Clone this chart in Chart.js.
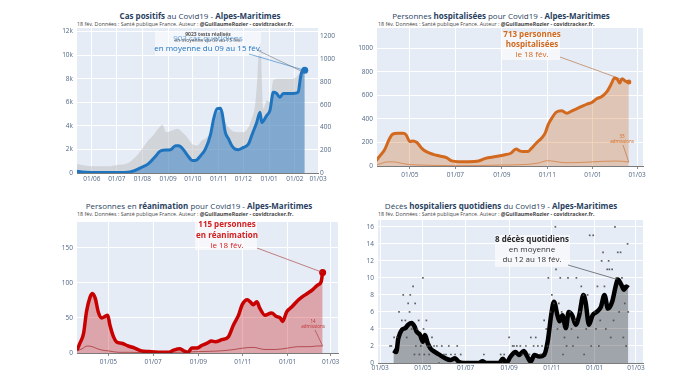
<!DOCTYPE html>
<html>
<head>
<meta charset="utf-8">
<script src="https://cdn.jsdelivr.net/npm/chart.js@4.4.1/dist/chart.umd.min.js"></script>
<style>
    body { margin: 0; width: 680px; height: 387px; position: relative; overflow: hidden; background: #fff; font-family: "Open Sans", sans-serif; }
    canvas { position: absolute; }
    .title { position: absolute; transform: translate(-50%, -50%); white-space: nowrap; font-size: 8px; color: #2a3f5f; }
    .sub { position: absolute; transform: translateY(-50%); white-space: nowrap; font-size: 5.3px; color: #444; }
</style>
</head>
<body>
<div class="title" style="left:200px;top:15px"><b>Cas positifs</b> au Covid19 - <b>Alpes-Maritimes</b></div>
<div class="sub" style="left:77px;top:23.5px">18 fév. Données : Santé publique France. Auteur : <b>@GuillaumeRozier - covidtracker.fr.</b></div>
<div class="title" style="left:501px;top:15px">Personnes <b>hospitalisées</b> pour Covid19 - <b>Alpes-Maritimes</b></div>
<div class="sub" style="left:378px;top:24px">18 fév. Données : Santé publique France. Auteur : <b>@GuillaumeRozier - covidtracker.fr.</b></div>
<div class="title" style="left:199px;top:205px">Personnes en <b>réanimation</b> pour Covid19 - <b>Alpes-Maritimes</b></div>
<div class="sub" style="left:77px;top:214px">18 fév. Données : Santé publique France. Auteur : <b>@GuillaumeRozier - covidtracker.fr.</b></div>
<div class="title" style="left:501px;top:204.5px">Décès <b>hospitaliers quotidiens</b> du Covid19 - <b>Alpes-Maritimes</b></div>
<div class="sub" style="left:378px;top:214px">18 fév. Données : Santé publique France. Auteur : <b>@GuillaumeRozier - covidtracker.fr.</b></div>

<canvas id="c1" width="345" height="190" style="left:0;top:0"></canvas>
<canvas id="c2" width="340" height="190" style="left:340px;top:0"></canvas>
<canvas id="c3" width="345" height="192" style="left:0;top:195px"></canvas>
<canvas id="c4" width="340" height="192" style="left:340px;top:195px"></canvas>

<script>
// ---- cas positifs (moyenne 7 jours) et tests ----
const casesDates = ['2020-05-14','2020-05-20','2020-06-01','2020-06-15','2020-07-01','2020-07-17','2020-07-31','2020-08-08','2020-08-16','2020-08-22',
    '2020-08-26','2020-09-04','2020-09-10','2020-09-14','2020-09-20','2020-09-26','2020-09-30','2020-10-04','2020-10-10','2020-10-16',
    '2020-10-22','2020-10-26','2020-10-30','2020-11-03','2020-11-05','2020-11-09','2020-11-13','2020-11-17','2020-11-21','2020-11-25',
    '2020-12-01','2020-12-07','2020-12-11','2020-12-17','2020-12-21','2020-12-23','2020-12-29','2021-01-02','2021-01-06','2021-01-10',
    '2021-01-14','2021-01-18','2021-01-24','2021-01-30','2021-02-05','2021-02-08','2021-02-10','2021-02-13'];
const casesValues = [15, 8, 5, 5, 5, 10, 50, 80, 140, 190,
    200, 205, 240, 240, 200, 140, 110, 110, 150, 210,
    330, 475, 565, 570, 535, 360, 300, 240, 210, 205,
    225, 255, 330, 445, 535, 445, 505, 550, 710, 700,
    665, 700, 700, 700, 710, 845, 900, 903];

const testsDates = ['2020-05-14','2020-06-01','2020-06-21','2020-07-01','2020-07-15','2020-07-21','2020-07-27','2020-08-02','2020-08-08','2020-08-14',
    '2020-08-20','2020-08-25','2020-08-30','2020-09-06','2020-09-12','2020-09-18','2020-09-24','2020-09-30','2020-10-06','2020-10-12',
    '2020-10-18','2020-10-24','2020-10-28','2020-11-01','2020-11-05','2020-11-09','2020-11-13','2020-11-19','2020-11-25','2020-12-01',
    '2020-12-07','2020-12-11','2020-12-15','2020-12-18','2020-12-20','2020-12-22','2020-12-23','2020-12-25','2020-12-29','2021-01-02',
    '2021-01-06','2021-01-12','2021-01-20','2021-01-28','2021-02-03','2021-02-08','2021-02-13'];
const testsValues = [770, 570, 570, 680, 850, 1190, 1620, 2190, 2750, 3180,
    3750, 4100, 3460, 3600, 3750, 3460, 3040, 2470, 2330, 2750,
    3040, 3750, 4460, 5170, 5110, 4320, 3890, 3520, 3460, 3460,
    3890, 4600, 5740, 8290, 10850, 11000, 8290, 5450, 6160, 6020,
    7870, 8000, 8000, 8000, 8150, 8500, 8500];

// ---- hospitalisations ----
const hospDates = ['2020-03-17','2020-03-21','2020-03-28','2020-04-04','2020-04-08','2020-04-15','2020-04-22','2020-04-26','2020-05-01','2020-05-05',
    '2020-05-10','2020-05-17','2020-05-23','2020-06-01','2020-06-10','2020-06-19','2020-06-26','2020-07-05','2020-07-19','2020-08-01',
    '2020-08-10','2020-08-24','2020-09-04','2020-09-13','2020-09-20','2020-09-25','2020-09-29','2020-10-06','2020-10-10','2020-10-17',
    '2020-10-24','2020-10-29','2020-11-02','2020-11-07','2020-11-13','2020-11-20','2020-11-27','2020-12-04','2020-12-10','2020-12-17',
    '2020-12-24','2020-12-31','2021-01-06','2021-01-13','2021-01-20','2021-01-25','2021-01-30','2021-02-03','2021-02-06','2021-02-09',
    '2021-02-14','2021-02-18'];
const hospValues = [43, 80, 136, 235, 270, 278, 278, 264, 207, 213,
    201, 150, 122, 99, 85, 71, 43, 37, 37, 43,
    65, 80, 94, 108, 145, 128, 122, 122, 145, 193,
    235, 278, 349, 406, 457, 468, 448, 468, 485, 505,
    525, 540, 570, 590, 633, 689, 746, 732, 704, 740,
    718, 713];
const hospAdmDates = ['2020-03-18','2020-03-25','2020-04-01','2020-04-08','2020-04-15','2020-04-22','2020-05-01','2020-05-15','2020-06-01','2020-07-01',
    '2020-08-01','2020-09-01','2020-10-01','2020-10-20','2020-11-01','2020-11-10','2020-11-20','2020-12-01','2020-12-15','2021-01-01',
    '2021-01-15','2021-02-01','2021-02-10','2021-02-18'];
const hospAdmValues = [10, 25, 35, 35, 30, 20, 12, 8, 5, 3,
    4, 8, 12, 25, 45, 40, 30, 28, 30, 35,
    40, 42, 40, 33];

// ---- réanimation ----
const reaDates = ['2020-03-19','2020-03-23','2020-03-28','2020-04-01','2020-04-06','2020-04-09','2020-04-13','2020-04-17','2020-04-22','2020-04-26',
    '2020-04-30','2020-05-03','2020-05-08','2020-05-12','2020-05-19','2020-05-28','2020-06-06','2020-06-15','2020-06-25','2020-07-08',
    '2020-07-22','2020-07-29','2020-08-07','2020-08-12','2020-08-18','2020-08-23','2020-08-30','2020-09-06','2020-09-13','2020-09-19',
    '2020-09-24','2020-10-03','2020-10-12','2020-10-19','2020-10-26','2020-10-31','2020-11-07','2020-11-11','2020-11-15','2020-11-20',
    '2020-11-24','2020-12-01','2020-12-10','2020-12-17','2020-12-22','2020-12-25','2020-12-31','2021-01-07','2021-01-14','2021-01-21',
    '2021-01-28','2021-02-04','2021-02-11','2021-02-16','2021-02-18'];
const reaValues = [4, 14, 28, 59, 80, 85, 78, 59, 50, 52,
    54, 40, 23, 16, 14, 10, 7, 3, 2, 1,
    1, 4, 6, 3, 1, 7, 7, 11, 14, 17,
    16, 19, 23, 40, 54, 69, 76, 73, 69, 73,
    64, 54, 57, 52, 50, 45, 59, 66, 74, 80,
    85, 90, 97, 102, 115];
const reaAdmDates = ['2020-03-19','2020-03-26','2020-04-02','2020-04-09','2020-04-16','2020-04-23','2020-05-01','2020-05-15','2020-06-01','2020-07-01',
    '2020-08-01','2020-09-01','2020-10-01','2020-10-20','2020-11-01','2020-11-15','2020-12-01','2020-12-15','2021-01-01','2021-01-15',
    '2021-02-01','2021-02-10','2021-02-18'];
const reaAdmValues = [3, 6, 10, 9, 6, 4, 3, 1, 1, 0,
    1, 2, 3, 5, 7, 8, 5, 5, 7, 9,
    9, 10, 10];

// ---- décès hospitaliers : moyenne 7 jours et valeurs quotidiennes ----
const deathDates = ['2020-03-20','2020-03-24','2020-03-27','2020-04-01','2020-04-06','2020-04-10','2020-04-15','2020-04-19','2020-04-22','2020-04-27',
    '2020-05-01','2020-05-04','2020-05-08','2020-05-12','2020-05-19','2020-05-26','2020-06-02','2020-06-09','2020-06-16','2020-06-21',
    '2020-06-28','2020-07-20','2020-07-25','2020-07-30','2020-08-18','2020-08-23','2020-08-28','2020-09-03','2020-09-10','2020-09-15',
    '2020-09-22','2020-09-27','2020-10-02','2020-10-07','2020-10-14','2020-10-21','2020-10-26','2020-10-31','2020-11-04','2020-11-09',
    '2020-11-12','2020-11-16','2020-11-21','2020-11-25','2020-11-30','2020-12-05','2020-12-10','2020-12-16','2020-12-19','2020-12-24',
    '2020-12-29','2021-01-04','2021-01-10','2021-01-15','2021-01-20','2021-01-26','2021-01-31','2021-02-03','2021-02-08','2021-02-12',
    '2021-02-15','2021-02-18'];
const deathAvg = [1.5, 1.3, 2.9, 3.9, 4.1, 4.5, 4.7, 4.3, 3.7, 3.3,
    2.5, 3.3, 2.3, 1.7, 1.25, 0.9, 0.55, 0.35, 0.55, 0.15,
    0, 0, 0.2, 0, 0, 0.5, 0, 0.75, 1.3, 0.95,
    1.4, 0.75, 0.15, 0.95, 0.75, 0.95, 2.5, 5.6, 7.2, 5.6,
    4.9, 5.6, 4.1, 6.0, 5.6, 4.5, 5.6, 8.0, 7.2, 4.5,
    5.6, 6.0, 6.6, 8.0, 6.4, 7.2, 9.0, 9.8, 9.2, 8.6,
    9.0, 8.8];
const dailyDates = ['2020-03-15','2020-03-17','2020-03-21','2020-03-25','2020-03-28','2020-04-01','2020-04-03','2020-04-06','2020-04-08','2020-04-10',
    '2020-04-12','2020-04-13','2020-04-15','2020-04-17','2020-04-19','2020-04-20','2020-04-21','2020-04-23','2020-04-25','2020-04-26',
    '2020-04-28','2020-05-01','2020-05-02','2020-05-03','2020-05-06','2020-05-08','2020-05-10','2020-05-11','2020-05-14','2020-05-17',
    '2020-05-21','2020-05-24','2020-05-28','2020-05-31','2020-06-03','2020-06-07','2020-06-10','2020-06-16','2020-06-19','2020-06-24',
    '2020-07-27','2020-08-20','2020-08-25','2020-09-01','2020-09-06','2020-09-08','2020-09-12','2020-09-17','2020-09-20','2020-09-25',
    '2020-09-30','2020-10-02','2020-10-06','2020-10-09','2020-10-12','2020-10-16','2020-10-18','2020-10-21','2020-10-24','2020-10-26',
    '2020-10-27','2020-10-30','2020-11-01','2020-11-04','2020-11-06','2020-11-07','2020-11-09','2020-11-11','2020-11-13','2020-11-15',
    '2020-11-17','2020-11-19','2020-11-22','2020-11-24','2020-11-27','2020-11-29','2020-12-01','2020-12-04','2020-12-06','2020-12-08',
    '2020-12-11','2020-12-13','2020-12-16','2020-12-17','2020-12-20','2020-12-22','2020-12-25','2020-12-27','2020-12-30','2021-01-01',
    '2021-01-03','2021-01-05','2021-01-07','2021-01-09','2021-01-11','2021-01-13','2021-01-15','2021-01-17','2021-01-19','2021-01-21',
    '2021-01-22','2021-01-24','2021-01-26','2021-01-28','2021-01-30','2021-02-01','2021-02-03','2021-02-05','2021-02-07','2021-02-09',
    '2021-02-11','2021-02-13','2021-02-15','2021-02-17','2021-02-18'];
const dailyValues = [2, 2, 3, 3, 6, 5, 8, 5, 3, 7,
    6, 8, 4, 9, 1, 7, 2, 4, 5, 1,
    2, 10, 4, 1, 5, 2, 1, 2, 3, 2,
    2, 0, 2, 1, 1, 2, 1, 1, 2, 1,
    1, 1, 1, 3, 2, 2, 2, 2, 1, 2,
    1, 3, 2, 3, 2, 1, 2, 5, 4, 2,
    10, 6, 8, 7, 16, 11, 4, 7, 10, 6,
    1, 3, 2, 10, 6, 4, 2, 5, 10, 3,
    6, 9, 8, 1, 4, 8, 15, 2, 15, 6,
    4, 9, 2, 5, 12, 13, 9, 4, 11, 12,
    11, 3, 11, 5, 16, 10, 13, 6, 13, 10,
    3, 7, 2, 14, 6];

// ---- axes ----
const monthTicks1 = ['2020-06-01','2020-07-01','2020-08-01','2020-09-01','2020-10-01','2020-11-01','2020-12-01','2021-01-01','2021-02-01','2021-03-01'];
const monthTicks2 = ['2020-05-01','2020-07-01','2020-09-01','2020-11-01','2021-01-01','2021-03-01'];
const monthTicks4 = ['2020-03-01','2020-05-01','2020-07-01','2020-09-01','2020-11-01','2021-01-01','2021-03-01'];
const casesLeftTicks = [0, 2000, 4000, 6000, 8000, 10000, 12000];
const casesLeftLabels = ['0', '2k', '4k', '6k', '8k', '10k', '12k'];
const casesRightTicks = [0, 200, 400, 600, 800, 1000, 1200];
const hospTicks = [0, 200, 400, 600, 800, 1000];
const reaTicks = [0, 50, 100, 150];
const deathTicks = [0, 2, 4, 6, 8, 10, 12, 14, 16];

Chart.defaults.font.family = '"Open Sans", sans-serif';

const dayNum = s => Date.UTC(+s.slice(0, 4), +s.slice(5, 7) - 1, +s.slice(8, 10)) / 864e5;
const pts = (dates, vals) => dates.map((d, i) => ({ x: dayNum(d), y: vals[i] }));
const tickFont = { size: 6.5 };
const tickColor = '#506784';

function xAxis(minD, maxD, tickDates, height, pad, drawTicks) {
    return {
        type: 'linear', min: dayNum(minD), max: dayNum(maxD),
        afterBuildTicks: s => { s.ticks = tickDates.map(d => ({ value: dayNum(d) })); },
        afterFit: s => { s.height = height; },
        ticks: {
            autoSkip: false, maxRotation: 0, font: tickFont, color: tickColor, padding: pad,
            callback: (v, i) => tickDates[i].slice(8, 10) + '/' + tickDates[i].slice(5, 7)
        },
        grid: { color: '#fff', lineWidth: 1, drawTicks: drawTicks, tickLength: 3, tickColor: '#8a8a8a' },
        border: { display: true, color: 'rgba(90,90,90,0.8)', width: 1 }
    };
}

function yAxis(position, max, tickVals, labels, width, pad, grid) {
    return {
        position, min: 0, max,
        afterBuildTicks: s => { s.ticks = tickVals.map(v => ({ value: v })); },
        afterFit: s => { s.width = width; },
        ticks: { font: tickFont, color: tickColor, padding: pad, callback: (v, i) => labels[i] },
        grid: { color: '#fff', lineWidth: 1, drawTicks: false, drawOnChartArea: grid },
        border: { display: false }
    };
}

// fond du graphique
const plotBg = {
    id: 'plotBg',
    beforeDraw(chart) {
        const { ctx, chartArea: a } = chart;
        ctx.save();
        ctx.fillStyle = '#e5ecf6';
        ctx.fillRect(a.left, a.top, a.width, a.height);
        ctx.restore();
    }
};

// annotations : boîtes, textes et traits vers un point
function notes(items) {
    return {
        id: 'notes',
        afterDatasetsDraw(chart) {
            const ctx = chart.ctx;
            ctx.save();
            ctx.textAlign = 'center';
            ctx.textBaseline = 'middle';
            for (const it of items) {
                if (it.box) {
                    ctx.fillStyle = it.fill;
                    ctx.fillRect(...it.box);
                } else if (it.text) {
                    ctx.font = it.font;
                    ctx.fillStyle = it.color;
                    ctx.fillText(it.text, it.x, it.y);
                } else if (it.from) {
                    const meta = chart.getDatasetMeta(it.ds);
                    const data = chart.data.datasets[it.ds].data;
                    let idx = data.length - 1;
                    if (it.date) idx = data.findIndex(p => p.x === dayNum(it.date));
                    const el = meta.data[idx];
                    ctx.strokeStyle = it.color;
                    ctx.lineWidth = it.width || 0.8;
                    ctx.beginPath();
                    ctx.moveTo(it.from[0], it.from[1]);
                    ctx.lineTo(el.x, el.y);
                    ctx.stroke();
                }
            }
            ctx.restore();
        }
    };
}

const lastDot = r => c => c.dataIndex === c.dataset.data.length - 1 ? r : 0;
const base = {
    responsive: false, animation: false, devicePixelRatio: 1,
    plugins: { legend: { display: false }, tooltip: { enabled: false } },
    elements: { point: { radius: 0 }, line: { cubicInterpolationMode: 'monotone', borderJoinStyle: 'round' } }
};

const blue = '#1f74c0', orange = '#d2691e', red = '#c80000';
const f = (w, s) => `${w} ${s}px "Open Sans"`;

// 1. cas positifs
new Chart(document.getElementById('c1'), {
    type: 'line',
    data: {
        datasets: [
            { data: pts(testsDates, testsValues), yAxisID: 'y', borderWidth: 0, fill: 'origin', backgroundColor: 'rgba(190,190,190,0.5)', order: 3 },
            { data: pts(casesDates, casesValues), yAxisID: 'y2', borderColor: blue, borderWidth: 3, fill: 'origin',
              backgroundColor: 'rgba(31,116,192,0.45)', pointRadius: lastDot(3.5), pointBackgroundColor: blue, pointBorderWidth: 0, order: 1 }
        ]
    },
    options: {
        ...base,
        layout: { padding: { top: 28 } },
        scales: {
            x: xAxis('2020-05-14', '2021-03-01', monthTicks1, 17, 2, false),
            y: yAxis('left', 12300, casesLeftTicks, casesLeftLabels, 77, 4, true),
            y2: yAxis('right', 1275, casesRightTicks, casesRightTicks.map(String), 27, 2, false)
        }
    },
    plugins: [plotBg, notes([
        { box: [155, 31, 106, 25], fill: 'rgba(255,255,255,0.55)' },
        { text: '903 cas quotidiens', x: 208, y: 38.5, font: f('normal', 8), color: 'rgba(70,145,215,0.8)' },
        { text: '9023 tests réalisés', x: 208, y: 34.3, font: f('bold', 5), color: '#555' },
        { text: 'en moyenne du 09 au 15 fév.', x: 208, y: 40.3, font: f('normal', 5), color: '#555' },
        { text: 'en moyenne du 09 au 15 fév.', x: 208, y: 48.3, font: f('normal', 8), color: blue },
        { from: [249, 54], ds: 1, color: 'rgba(31,116,192,0.7)' },
        { from: [257, 50], ds: 0, color: 'rgba(110,110,110,0.7)' }
    ])]
});

// 2. hospitalisations
new Chart(document.getElementById('c2'), {
    type: 'line',
    data: {
        datasets: [
            { data: pts(hospDates, hospValues), borderColor: orange, borderWidth: 3, fill: 'origin', backgroundColor: 'rgba(210,105,30,0.3)',
              pointRadius: lastDot(2.5), pointBackgroundColor: orange, pointBorderWidth: 0, order: 1 },
            { data: pts(hospAdmDates, hospAdmValues), borderColor: 'rgba(210,105,30,0.6)', borderWidth: 1, fill: false, order: 0 }
        ]
    },
    options: {
        ...base,
        layout: { padding: { top: 28, right: 37 } },
        scales: {
            x: xAxis('2020-03-18', '2021-03-09', monthTicks2, 24, 2, true),
            y: yAxis('left', 1170, hospTicks, hospTicks.map(String), 37, 4, true)
        }
    },
    plugins: [plotBg, notes([
        { box: [162, 32, 58, 28], fill: 'rgba(255,255,255,0.6)' },
        { text: '713 personnes', x: 192, y: 35, font: f('bold', 8), color: orange },
        { text: 'hospitalisées', x: 192, y: 45, font: f('bold', 8), color: orange },
        { text: 'le 18 fév.', x: 192, y: 54.5, font: f('normal', 8), color: orange },
        { from: [220, 57], ds: 0, color: 'rgba(180,110,60,0.8)' },
        { text: '33', x: 282, y: 137, font: f('normal', 4.5), color: orange },
        { text: 'admissions', x: 282, y: 142, font: f('normal', 4.5), color: orange },
        { from: [283, 145], ds: 1, color: 'rgba(180,110,60,0.8)' }
    ])]
});

// 3. réanimation
new Chart(document.getElementById('c3'), {
    type: 'line',
    data: {
        datasets: [
            { data: pts(reaDates, reaValues), borderColor: red, borderWidth: 3.5, fill: 'origin', backgroundColor: 'rgba(200,0,0,0.3)',
              pointRadius: lastDot(3.5), pointBackgroundColor: red, pointBorderWidth: 0, order: 1 },
            { data: pts(reaAdmDates, reaAdmValues), borderColor: 'rgba(150,20,20,0.6)', borderWidth: 1, fill: false, order: 0 }
        ]
    },
    options: {
        ...base,
        layout: { padding: { top: 27, right: 7 } },
        scales: {
            x: xAxis('2020-03-19', '2021-03-11', monthTicks2, 34, 2, true),
            y: yAxis('left', 187, reaTicks, reaTicks.map(String), 77, 4, true)
        }
    },
    plugins: [plotBg, notes([
        { box: [195, 25, 62, 30], fill: 'rgba(255,255,255,0.6)' },
        { text: '115 personnes', x: 227, y: 30, font: f('bold', 8), color: '#d42020' },
        { text: 'en réanimation', x: 227, y: 40.7, font: f('bold', 8), color: '#d42020' },
        { text: 'le 18 fév.', x: 227, y: 50.7, font: f('normal', 8), color: '#d42020' },
        { from: [257, 53], ds: 0, color: 'rgba(170,60,60,0.8)' },
        { text: '14', x: 313, y: 127, font: f('normal', 4.5), color: '#c03030' },
        { text: 'admissions', x: 313, y: 132, font: f('normal', 4.5), color: '#c03030' },
        { from: [315, 135], ds: 1, color: 'rgba(170,60,60,0.8)' }
    ])]
});

// 4. décès hospitaliers
new Chart(document.getElementById('c4'), {
    type: 'line',
    data: {
        datasets: [
            { data: pts(deathDates, deathAvg), borderColor: '#000', borderWidth: 4.5, fill: 'origin', backgroundColor: 'rgba(0,0,0,0.3)', order: 2 },
            { data: pts(dailyDates, dailyValues), showLine: false, pointRadius: 1.2, pointStyle: 'rect',
              pointBackgroundColor: 'rgba(70,70,70,0.85)', pointBorderWidth: 0, order: 1 }
        ]
    },
    options: {
        ...base,
        layout: { padding: { top: 25, right: 37 } },
        scales: {
            x: xAxis('2020-02-27', '2021-03-11', monthTicks4, 24, 1, false),
            y: yAxis('left', 16.8, deathTicks, deathTicks.map(String), 38, 4, true)
        }
    },
    plugins: [plotBg, notes([
        { box: [155, 40, 75, 32], fill: 'rgba(255,255,255,0.6)' },
        { text: '8 décès quotidiens', x: 192, y: 45, font: f('bold', 8), color: '#2a2a2a' },
        { text: 'en moyenne', x: 192, y: 55, font: f('normal', 8), color: '#333' },
        { text: 'du 12 au 18 fév.', x: 192, y: 65, font: f('normal', 8), color: '#333' },
        { from: [228, 70], ds: 0, date: '2021-02-03', color: 'rgba(60,60,60,0.8)' }
    ])]
});
</script>
</body>
</html>
